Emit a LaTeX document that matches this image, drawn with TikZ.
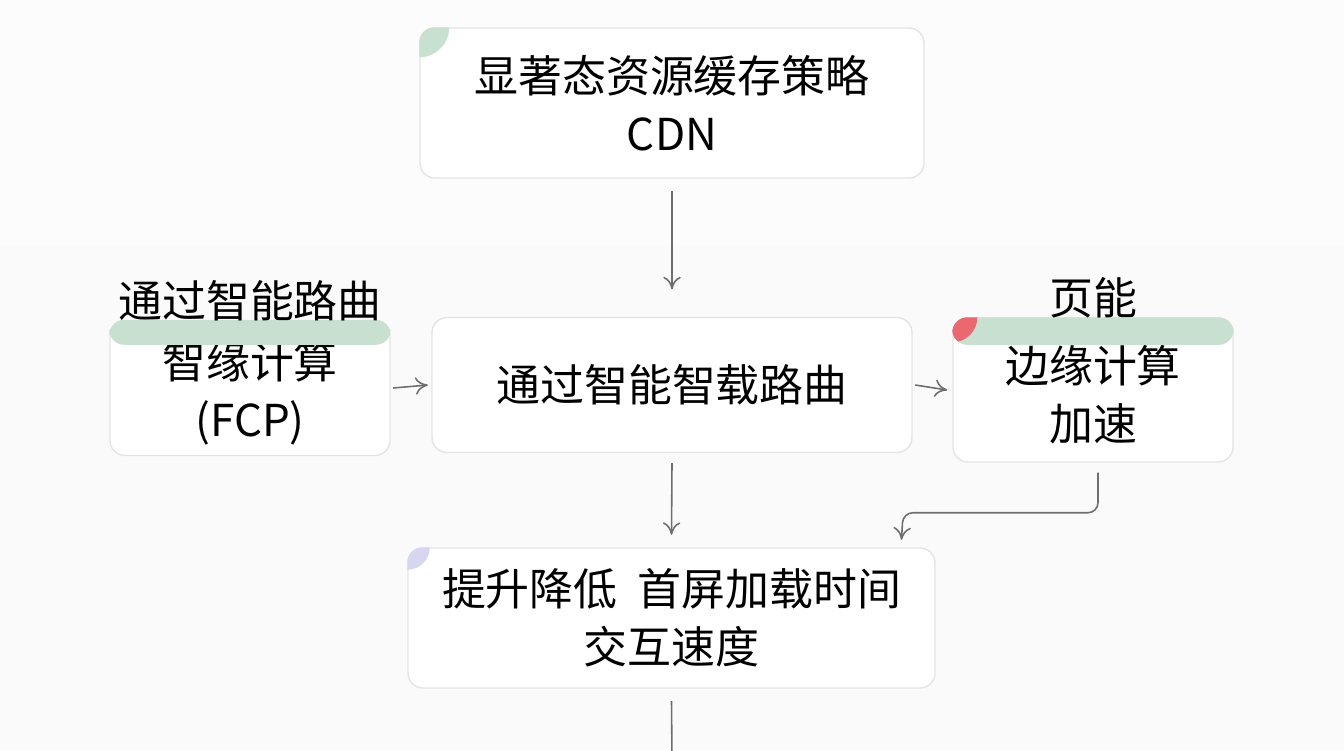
\documentclass[tikz,border=0pt]{standalone}
\usepackage{fontspec}
\setmainfont{Noto Sans CJK SC}
\usetikzlibrary{arrows.meta, positioning, calc}
\definecolor{bandgreen}{RGB}{200, 224, 208}
\definecolor{cornerred}{RGB}{236, 104, 112}
\definecolor{cornerpurple}{RGB}{214, 214, 240}
\definecolor{boxline}{RGB}{228, 228, 228}
\definecolor{arrowgray}{RGB}{110, 110, 110}

\begin{document}
\begin{tikzpicture}[
  >={To[length=2.5mm, width=3.5mm]},
  box/.style={draw=boxline, fill=white, rounded corners=3mm, line width=0.8pt, align=center, font=\fontsize{25}{33}\selectfont},
  label/.style={font=\fontsize{25}{33}\selectfont},
  arrow/.style={->, arrowgray, line width=0.9pt}
]
  % background
  \fill[gray!4] (0,0) rectangle (26.88,-15);
  \fill[gray!2] (0,0) rectangle (26.88,-4.9);
  \useasboundingbox (0,0) rectangle (26.88,-15);

  % Step 1: CDN
  \node[box, minimum width=10.08cm, minimum height=3cm] (cdn) at (13.44,-2.06) {显著态资源缓存策略\\CDN};
  \begin{scope}
    \clip[rounded corners=3mm] (cdn.north west) rectangle ([xshift=1cm,yshift=-1cm]cdn.north west);
    \fill[bandgreen] (cdn.north west) circle (0.6);
  \end{scope}

  % Step 2: middle row
  \node[box, minimum width=9.6cm, minimum height=2.7cm] (route) at (13.44,-7.7) {通过智能智载路曲};
  \node[box, minimum width=5.6cm, minimum height=2.7cm] (fcp) at (5.0,-7.76) {\\[-6pt]智缘计算\\(FCP)};
  \begin{scope}
    \clip[rounded corners=3mm] (fcp.north west) rectangle ([yshift=-0.5cm]fcp.north east);
    \fill[bandgreen] (fcp.north west) rectangle ([yshift=-0.5cm]fcp.north east);
  \end{scope}
  \node[box, minimum width=5.6cm, minimum height=2.88cm] (edge) at (21.86,-7.8) {\\[-6pt]边缘计算\\加速};
  \begin{scope}
    \clip[rounded corners=3mm] (edge.north west) rectangle ([yshift=-0.55cm]edge.north east);
    \fill[bandgreen] (edge.north west) rectangle ([yshift=-0.55cm]edge.north east);
    \fill[cornerred] (edge.north west) circle (0.5);
  \end{scope}
  \node[label, above=-0.15cm of fcp.north] (fcptitle) {通过智能路曲};
  \node[label, above=-0.15cm of edge.north] (edgetitle) {页能};

  % Step 3: result
  \node[box, minimum width=10.54cm, minimum height=2.8cm] (result) at (13.43,-12.36) {提升降低\ \ 首屏加载时间\\交互速度};
  \begin{scope}
    \clip[rounded corners=3mm] (result.north west) rectangle ([xshift=1cm,yshift=-1cm]result.north west);
    \fill[cornerpurple] (result.north west) circle (0.45);
  \end{scope}
  \coordinate (out) at (13.44,-15.2);

  % connectors
  \draw[arrow] ([yshift=-0.25cm]cdn.south) -- ([yshift=0.55cm]route.north);
  \draw[arrow] ([xshift=0.05cm]fcp.east) -- ([xshift=-0.07cm]route.west);
  \draw[arrow] ([xshift=0.05cm]route.east) -- ([xshift=-0.1cm]edge.west);
  \draw[arrow] ([yshift=-0.2cm]route.south) -- ([yshift=0.25cm]result.north);
  \draw[arrow, rounded corners=2mm] ([xshift=0.1cm,yshift=-0.2cm]edge.south) |- ++(-3.9,-0.8) -- ([xshift=4.6cm,yshift=0.15cm]result.north);
  \draw[arrowgray, line width=0.9pt] ([yshift=-0.25cm]result.south) -- (out);
\end{tikzpicture}
\end{document}
